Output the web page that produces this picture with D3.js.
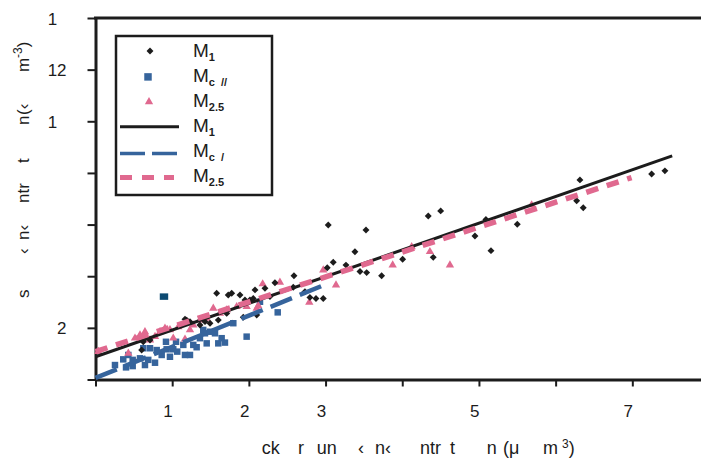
<!DOCTYPE html>
<html>
<head>
<meta charset="utf-8">
<script src="https://cdn.jsdelivr.net/npm/d3@7/dist/d3.min.js"></script>
<style>
  html, body { margin: 0; padding: 0; background: #fff; }
  svg { display: block; font-family: "Liberation Sans", Arial, sans-serif; }
</style>
</head>
<body>
<svg id="chart" width="701" height="464"></svg>
<script>
// Axis ticks and the label text printed at each tick
const xTickValues = [0, 10, 20, 30, 40, 50, 60, 70, 80];
const xTickText   = ["", "1", "2", "3", "", "5", "", "7", ""];
const yTickValues = [0, 20, 40, 60, 80, 100, 120, 140];
const yTickText   = ["", "2", "", "", "", "1", "12", "1"];

// Scatter series [x, y]
const m1Points = [
  [6.02, 11.4], [6.23, 14.6], [7.11, 15.3], [11.67, 23.3], [11.89, 23.0], [12.32, 22.4],
  [13.62, 21.1], [14.28, 22.4], [14.93, 21.8], [15.80, 33.4], [16.01, 23.0], [17.11, 25.6],
  [17.31, 32.7], [17.76, 33.4], [18.84, 32.7], [19.27, 24.1], [19.49, 30.8], [20.14, 30.8],
  [20.57, 31.4], [20.80, 34.7], [21.02, 25.0], [22.10, 35.3], [22.75, 32.1], [23.40, 37.5],
  [25.79, 35.7], [25.88, 40.2], [27.31, 34.0], [27.96, 31.8], [28.75, 31.4], [29.70, 31.4],
  [30.22, 43.3], [30.35, 59.8], [31.00, 45.4], [32.66, 44.3], [33.83, 49.5], [34.49, 41.8],
  [35.27, 57.9], [35.36, 41.4], [37.31, 40.2], [40.05, 46.6], [43.39, 63.3], [44.04, 47.3],
  [45.01, 65.3], [49.48, 55.6], [50.91, 62.0], [51.57, 49.9], [55.00, 60.1], [62.74, 69.2],
  [63.17, 77.3], [63.60, 66.5], [72.52, 79.6], [74.25, 80.8]
];
const mcPoints = [
  [2.54, 5.6], [3.62, 7.8], [3.98, 4.7], [4.85, 5.2], [4.85, 7.6], [4.28, 9.5], [5.80, 8.2],
  [6.23, 12.1], [6.45, 5.6], [6.88, 7.6], [7.11, 12.1], [7.76, 6.5], [7.98, 11.4], [8.63, 9.5],
  [9.19, 14.6], [9.28, 11.7], [9.71, 8.8], [10.14, 11.7], [10.50, 14.6], [10.66, 10.8],
  [11.45, 13.4], [11.67, 9.5], [12.32, 9.5], [12.75, 13.4], [13.19, 12.5], [13.62, 16.0],
  [14.05, 19.2], [14.28, 17.9], [14.50, 14.0], [14.93, 18.5], [15.58, 17.9], [16.01, 14.0],
  [16.45, 16.0], [16.88, 14.3], [17.97, 21.8], [19.71, 16.6], [21.45, 30.1], [23.76, 26.0]
];
const mcOutlier = [[8.93, 32.1]];
const m25Points = [
  [0.37, 10.8], [4.28, 10.1], [5.15, 16.0], [5.80, 17.2], [6.45, 18.5], [7.11, 15.3],
  [7.76, 16.6], [8.41, 18.5], [9.06, 19.8], [9.71, 19.2], [10.14, 16.0], [10.80, 20.4],
  [11.67, 15.6], [12.32, 19.2], [12.75, 21.1], [13.62, 23.0], [14.50, 23.7], [15.36, 27.6],
  [16.23, 25.6], [17.11, 26.9], [18.41, 28.2], [19.71, 28.2], [21.02, 27.6], [21.23, 28.5],
  [21.80, 37.0], [24.05, 37.6], [27.88, 29.9], [29.70, 42.4], [31.36, 36.6], [38.75, 44.3],
  [41.23, 51.4], [43.61, 49.5], [46.22, 44.3], [56.87, 67.6]
];

// Fitted lines, given by their two end points
const m1Fit  = [[0, 8.8], [75.2, 86.6]];
const mcFit  = [[0, 0.6], [29.5, 36.2]];
const m25Fit = [[0, 10.8], [69.9, 78.2]];

const BLACK = "#1c1c1c", BLUE = "#36649c", PINK = "#e0698f", TEAL = "#0c4a72";

const svg = d3.select("#chart");
const x = d3.scaleLinear().domain([0, 80]).range([95.5, 709]);
const y = d3.scaleLinear().domain([0, 140]).range([379.5, 18]);

const digitW = 9.45; // width of one digit at 17px

// Top frame line
svg.append("line")
  .attr("x1", x(0) - 1.5).attr("x2", 701)
  .attr("y1", y(140)).attr("y2", y(140))
  .attr("stroke", BLACK).attr("stroke-width", 3);

// Left axis
const yAxis = svg.append("g")
  .attr("transform", `translate(${x(0)},0)`)
  .call(d3.axisLeft(y).tickValues(yTickValues).tickSize(8).tickSizeOuter(0)
    .tickFormat((d, i) => yTickText[i]));
yAxis.select(".domain").attr("stroke", BLACK).attr("stroke-width", 3);
yAxis.selectAll(".tick line").attr("stroke", BLACK).attr("stroke-width", 2);
yAxis.selectAll(".tick text")
  .attr("text-anchor", "start")
  .attr("x", d => -19.5 - String(d).length * digitW)
  .attr("dy", "0.36em")
  .attr("fill", BLACK)
  .style("font-size", "17px").style("font-family", "Liberation Sans, Arial, sans-serif");

// Bottom axis
const xAxis = svg.append("g")
  .attr("transform", `translate(0,${y(0)})`)
  .call(d3.axisBottom(x).tickValues(xTickValues).tickSize(7).tickSizeOuter(0)
    .tickFormat((d, i) => xTickText[i]));
xAxis.select(".domain").attr("stroke", BLACK).attr("stroke-width", 3);
xAxis.selectAll(".tick line").attr("stroke", BLACK).attr("stroke-width", 2);
xAxis.selectAll(".tick text")
  .attr("text-anchor", "start")
  .attr("x", d => -String(d).length * digitW / 2)
  .attr("y", 37.5).attr("dy", 0)
  .attr("fill", BLACK)
  .style("font-size", "17px").style("font-family", "Liberation Sans, Arial, sans-serif");

// Markers
const diamond = d3.symbol().type(d3.symbolSquare).size(24);
const square = d3.symbol().type(d3.symbolSquare).size(42);
const triangle = d3.symbol().type(d3.symbolTriangle).size(30);

const plot = svg.append("g");
plot.selectAll(".mc").data(mcPoints).join("path")
  .attr("d", square).attr("fill", BLUE)
  .attr("transform", d => `translate(${x(d[0])},${y(d[1])})`);
plot.selectAll(".mco").data(mcOutlier).join("path")
  .attr("d", square).attr("fill", TEAL)
  .attr("transform", d => `translate(${x(d[0])},${y(d[1])}) scale(1.3,1)`);
plot.selectAll(".m25").data(m25Points).join("path")
  .attr("d", triangle).attr("fill", PINK)
  .attr("transform", d => `translate(${x(d[0])},${y(d[1])})`);
plot.selectAll(".m1").data(m1Points).join("path")
  .attr("d", diamond).attr("fill", BLACK)
  .attr("transform", d => `translate(${x(d[0])},${y(d[1])}) rotate(45)`);

// Fit lines
const line = d3.line().x(d => x(d[0])).y(d => y(d[1]));
plot.append("path").attr("d", line(m1Fit)).attr("fill", "none")
  .attr("stroke", BLACK).attr("stroke-width", 3);
plot.append("path").attr("d", line(mcFit)).attr("fill", "none")
  .attr("stroke", BLUE).attr("stroke-width", 4.5).attr("stroke-dasharray", "23,8.5");
plot.append("path").attr("d", line(m25Fit)).attr("fill", "none")
  .attr("stroke", PINK).attr("stroke-width", 5.5).attr("stroke-dasharray", "12.5,9");

// Legend
const lg = svg.append("g");
lg.append("rect").attr("x", 116).attr("y", 36).attr("width", 156).attr("height", 159)
  .attr("fill", "#fff").attr("stroke", BLACK).attr("stroke-width", 2.5);

const rowY = i => 51 + i * 24.9;
lg.append("path").attr("d", diamond).attr("fill", BLACK)
  .attr("transform", `translate(150,${rowY(0)}) rotate(45)`);
lg.append("path").attr("d", d3.symbol().type(d3.symbolSquare).size(56)).attr("fill", BLUE)
  .attr("transform", `translate(148,${rowY(1) + 1})`);
lg.append("path").attr("d", triangle).attr("fill", PINK)
  .attr("transform", `translate(149,${rowY(2) + 1})`);
lg.append("line").attr("x1", 120).attr("x2", 179).attr("y1", rowY(3) + 1).attr("y2", rowY(3) + 1)
  .attr("stroke", BLACK).attr("stroke-width", 3);
lg.append("line").attr("x1", 120).attr("x2", 177).attr("y1", rowY(4) + 3).attr("y2", rowY(4) + 3)
  .attr("stroke", BLUE).attr("stroke-width", 3.5).attr("stroke-dasharray", "25,7");
lg.append("line").attr("x1", 120).attr("x2", 174).attr("y1", rowY(5) + 2).attr("y2", rowY(5) + 2)
  .attr("stroke", PINK).attr("stroke-width", 5).attr("stroke-dasharray", "12,10");

const legendLabels = [["M", "1"], ["M", "c  //"], ["M", "2.5"], ["M", "1"], ["M", "c  /"], ["M", "2.5"]];
legendLabels.forEach((lab, i) => {
  const t = lg.append("text").attr("x", 193).attr("y", rowY(i) + 6)
    .attr("fill", BLACK).style("font-size", "19px");
  t.append("tspan").text(lab[0]);
  t.append("tspan").attr("dy", 4).style("font-size", "11px").style("font-weight", "bold")
    .attr("xml:space", "preserve").style("white-space", "pre").text(lab[1]);
});

// Axis titles (only the visible letter groups are printed)
const xTitle = svg.append("text").attr("y", 454).attr("fill", BLACK)
  .style("font-size", "18px");
[[261.7, "ck"], [298, "r"], [316.7, "un"], [358, "‹"], [375, "n‹"], [420, "ntr"],
 [450, "t"], [486.7, "n"], [503, "(μ"], [543, "m"]].forEach(p => {
  xTitle.append("tspan").attr("x", p[0]).text(p[1]);
});
xTitle.append("tspan").attr("x", 562).attr("dy", -6).style("font-size", "12px").text("3");
xTitle.append("tspan").attr("dy", 6).text(")");

const yTitle = svg.append("text").attr("transform", "rotate(-90)").attr("y", 29)
  .attr("fill", BLACK).style("font-size", "17px");
[[298, "s"], [254, "‹"], [240, "n‹"], [203, "ntr"], [163, "t"], [125, "n"], [115, "(‹"],
 [72, "m"]].forEach(p => {
  yTitle.append("tspan").attr("x", -p[0]).text(p[1]);
});
yTitle.append("tspan").attr("x", -58).attr("dy", -7).style("font-size", "12px").text("-3");
yTitle.append("tspan").attr("dy", 7).text(")");
</script>
</body>
</html>
